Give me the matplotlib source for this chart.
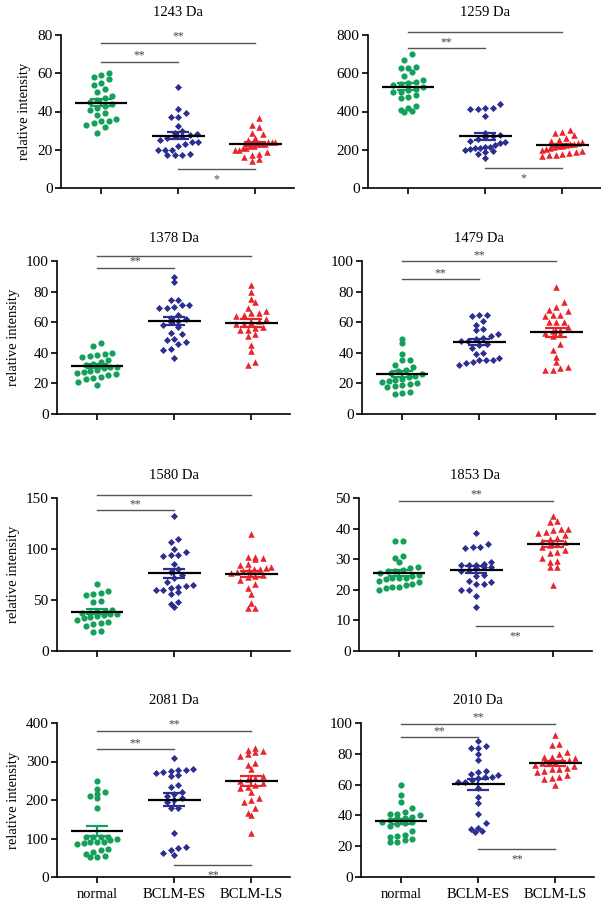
import numpy as np
import matplotlib
matplotlib.use("Agg")
import matplotlib.pyplot as plt

plt.rcParams['font.family'] = 'Liberation Serif'

groups = ['normal', 'BCLM-ES', 'BCLM-LS']
colors = ['#14a05a', '#2b2f8f', '#e8242c']
markers = ['o', 'D', '^']
msizes = [20, 13, 22]

# relative intensities
p1243_normal = [60, 59, 58, 57, 55, 54, 52, 50, 48, 47, 46, 45, 44, 43, 42, 41, 39, 38, 36, 35, 35, 34, 33, 32, 29]
p1243_es = [53, 41.5, 39, 37, 37, 32.5, 30, 29, 28, 27.5, 27, 27, 26, 25, 24, 24, 23, 22, 20, 20, 20, 18, 17, 17, 17]
p1243_ls = [36.5, 33, 32, 29, 28, 26, 25, 24, 24, 24, 23, 23, 23, 22, 22, 21, 21, 20, 20, 19, 18, 17, 16, 15, 14]

p1259_normal = [700, 670, 635, 625, 625, 605, 585, 565, 555, 550, 545, 540, 530, 520, 510, 500, 500, 485, 475, 470, 430, 420, 410, 405, 395]
p1259_es = [440, 420, 415, 415, 420, 375, 285, 275, 270, 265, 255, 245, 240, 235, 225, 215, 215, 210, 210, 205, 200, 195, 190, 180, 155]
p1259_ls = [305, 295, 290, 275, 260, 250, 245, 240, 235, 230, 230, 225, 220, 220, 215, 210, 205, 200, 195, 190, 185, 180, 175, 170, 165]

p1378_normal = [46.5, 44.5, 40, 39, 38.5, 38, 37, 35, 34, 33, 32, 31, 30.5, 30, 29, 28, 27.5, 27, 26, 25.5, 24, 23.5, 23, 21, 19]
p1378_es = [89.5, 86, 74.5, 74.5, 71, 71, 70, 69, 69, 65, 63, 62, 61, 60, 58, 57, 53, 52, 49, 48.5, 47, 46, 42.5, 42, 36.5]
p1378_ls = [84, 80, 75, 73, 69, 67, 66, 66, 65, 64, 62, 61, 60, 59, 59, 57, 56, 55, 55, 52, 51, 45, 41, 34, 32]

p1479_normal = [49, 46.5, 39, 35.5, 35, 32, 31, 29, 28, 27, 26, 25, 24, 23, 22, 21.5, 21, 20, 19.5, 19, 18.5, 17.5, 14.5, 14, 13]
p1479_es = [65, 64.5, 64, 60.5, 58, 55.5, 55, 52, 51, 50, 49, 48, 47.5, 46, 45, 43, 40, 39, 36.5, 35.5, 35, 35, 34, 33.5, 32]
p1479_ls = [83, 73, 70, 68, 67, 65, 65, 64, 60, 60, 60, 57, 55, 54, 53, 52, 51, 46, 42, 37, 34, 31, 30, 29, 28.5]

p1580_normal = [66, 59, 57, 56, 55, 49, 48, 40, 39, 38, 37, 37, 36, 36, 35, 34, 33, 32, 30, 28, 27, 26, 25, 20, 19]
p1580_es = [132, 110, 107, 100, 97, 94, 94, 93, 85, 80, 77, 75, 72, 68, 65, 64, 63, 62, 60, 60, 58, 56, 48, 46, 43]
p1580_ls = [115, 92, 92, 91, 90, 85, 84, 82, 81, 80, 80, 79, 78, 77, 76, 75, 74, 73, 70, 66, 62, 56, 47, 42, 42]

p1853_normal = [36, 36, 31, 30.5, 29, 27.5, 27, 26.5, 26, 26, 25.5, 25, 24.5, 24, 24, 24, 23.5, 23, 22.5, 22, 21.5, 21, 21, 20.5, 20]
p1853_es = [38.5, 35, 34, 34, 33.5, 29, 28.5, 28, 28, 28, 27.5, 27.5, 27, 26.5, 26, 25, 24.5, 23, 22.5, 22, 22, 20, 20, 18, 14.5]
p1853_ls = [44, 42.5, 42, 40, 40, 39.5, 39, 38.5, 38, 37, 36.5, 36, 35.5, 35, 34.5, 34, 33, 32.5, 32, 30.5, 29.5, 29, 27.5, 27.5, 21.5]

p2081_normal = [250, 228, 220, 215, 210, 205, 180, 104, 103, 105, 103, 95, 100, 92, 90, 90, 88, 85, 72, 70, 65, 60, 55, 53, 52]
p2081_es = [310, 280, 278, 277, 275, 272, 270, 265, 262, 240, 235, 220, 215, 210, 205, 200, 195, 180, 178, 115, 78, 75, 70, 62, 58]
p2081_ls = [335, 330, 328, 325, 320, 315, 295, 290, 280, 262, 258, 255, 250, 245, 240, 235, 230, 220, 205, 200, 195, 180, 165, 160, 115]

p2010_normal = [59.5, 53.5, 49, 45, 42.5, 41, 41, 40, 39, 38, 38, 37, 36, 35.5, 35, 34.5, 33, 30, 27, 26.5, 26, 25, 24, 23, 22.5]
p2010_es = [88, 85, 84, 84, 80, 76, 69, 68, 67, 66, 65, 65, 64, 62, 63, 62, 52, 58, 48, 41, 35, 32, 31, 30, 29.5]
p2010_ls = [92, 86.5, 86, 81, 80, 78, 78, 77, 76, 76, 75, 74.5, 74, 73, 72, 71, 70, 70, 69, 68, 66, 65, 64, 63.5, 60]

titles = ['1243 Da', '1259 Da', '1378 Da', '1479 Da', '1580 Da', '1853 Da', '2081 Da', '2010 Da']
panel_data = [
    [p1243_normal, p1243_es, p1243_ls],
    [p1259_normal, p1259_es, p1259_ls],
    [p1378_normal, p1378_es, p1378_ls],
    [p1479_normal, p1479_es, p1479_ls],
    [p1580_normal, p1580_es, p1580_ls],
    [p1853_normal, p1853_es, p1853_ls],
    [p2081_normal, p2081_es, p2081_ls],
    [p2010_normal, p2010_es, p2010_ls],
]
ymax = [80, 800, 100, 100, 150, 50, 400, 100]
ystep = [20, 200, 20, 20, 50, 10, 100, 20]

# significance brackets: (from group, to group, height, label)
sig = [
    [(0, 1, 66, '**'), (0, 2, 76, '**'), (1, 2, 10, '*')],
    [(0, 1, 731, '**'), (0, 2, 814, '**'), (1, 2, 104, '*')],
    [(0, 1, 95.7, '**'), (0, 2, 103.3, '**')],
    [(0, 1, 88.2, '**'), (0, 2, 100, '**')],
    [(0, 1, 138, '**'), (0, 2, 153, '**')],
    [(0, 2, 49.1, '**'), (1, 2, 8.1, '**')],
    [(0, 1, 332, '**'), (0, 2, 380, '**'), (1, 2, 31, '**')],
    [(0, 1, 90.6, '**'), (0, 2, 99.6, '**'), (1, 2, 18.1, '**')],
]

W, H = 601, 902
fig = plt.figure(figsize=(W / 100, H / 100), dpi=100)

# axes boxes in pixels: left, top, bottom
row_top = [35, 261, 498, 723]
row_bot = [188, 414, 651, 877]
col_left = [[61, 368], [57, 362], [57, 359], [57, 361]]
ax_w = 233


def row_scatter(ax, xc, vals, dx, dy, half_max=20):
    # Prism-like layout: points with similar height share a row, spread sideways
    pix = ax.transData.transform(np.column_stack([np.full(len(vals), xc), vals]))
    x0 = pix[0, 0]
    ys = pix[:, 1]
    xs = np.zeros(len(vals))
    bins = np.floor(ys / dy).astype(int)
    for b in np.unique(bins):
        idx = np.where(bins == b)[0]
        idx = idx[np.argsort(ys[idx])]
        n = len(idx)
        step = dx if n < 2 else min(dx, 2 * half_max / (n - 1))
        xs[idx] = (np.arange(n) - (n - 1) / 2) * step
    back = ax.transData.inverted().transform(np.column_stack([x0 + xs, ys]))
    return back[:, 0]


for k in range(8):
    r, c = divmod(k, 2)
    left = col_left[r][c]
    ax = fig.add_axes([left / W, 1 - row_bot[r] / H, ax_w / W, (row_bot[r] - row_top[r]) / H])
    ax.set_xlim(-0.52, 2.5)
    ax.set_ylim(0, ymax[k])

    for g, vals in enumerate(panel_data[k]):
        vals = np.array(vals, dtype=float)
        xs = row_scatter(ax, g, vals, 7.5, 8.0)
        ax.scatter(xs, vals, s=msizes[g], marker=markers[g], color=colors[g],
                   linewidths=0, zorder=2, clip_on=False)
        m = vals.mean()
        se = vals.std(ddof=1) / np.sqrt(len(vals))
        ax.errorbar(g, m, yerr=se, fmt='none', ecolor=colors[g], elinewidth=1.6,
                    capsize=8, capthick=1.6, zorder=3)
        ax.hlines(m, g - 0.34, g + 0.34, color='black', lw=1.6, zorder=4)

    for a, b, h, lab in sig[k]:
        ax.plot([a, b], [h, h], color='#555555', lw=1, clip_on=False, zorder=1)
        if h < ymax[k] * 0.3:
            ax.annotate(lab, ((a + b) / 2, h), xytext=(0, -3), textcoords='offset points',
                        ha='center', va='top', fontsize=8.5, color='#444444')
        else:
            ax.annotate(lab, ((a + b) / 2, h), xytext=(0, 0), textcoords='offset points',
                        ha='center', va='bottom', fontsize=8.5, color='#444444')

    ax.spines['top'].set_visible(False)
    ax.spines['right'].set_visible(False)
    ax.spines['left'].set_linewidth(1.2)
    ax.spines['bottom'].set_linewidth(1.2)
    ax.set_yticks(np.arange(0, ymax[k] + 1, ystep[k]))
    ax.set_xticks([0, 1, 2])
    if r == 3:
        ax.set_xticklabels(groups, fontsize=10.5)
    else:
        ax.set_xticklabels([])
    ax.tick_params(axis='y', labelsize=11, length=4, width=1.2, pad=2)
    ax.tick_params(axis='x', length=4, width=1.2, pad=4)
    ax.set_title(titles[k], fontsize=10.5, pad=14)
    if c == 0:
        ax.set_ylabel('relative intensity', fontsize=10.5)
        ax.yaxis.set_label_coords(-0.13 if r == 0 else -0.16, 0.5)

fig.savefig('out.png', dpi=100)
